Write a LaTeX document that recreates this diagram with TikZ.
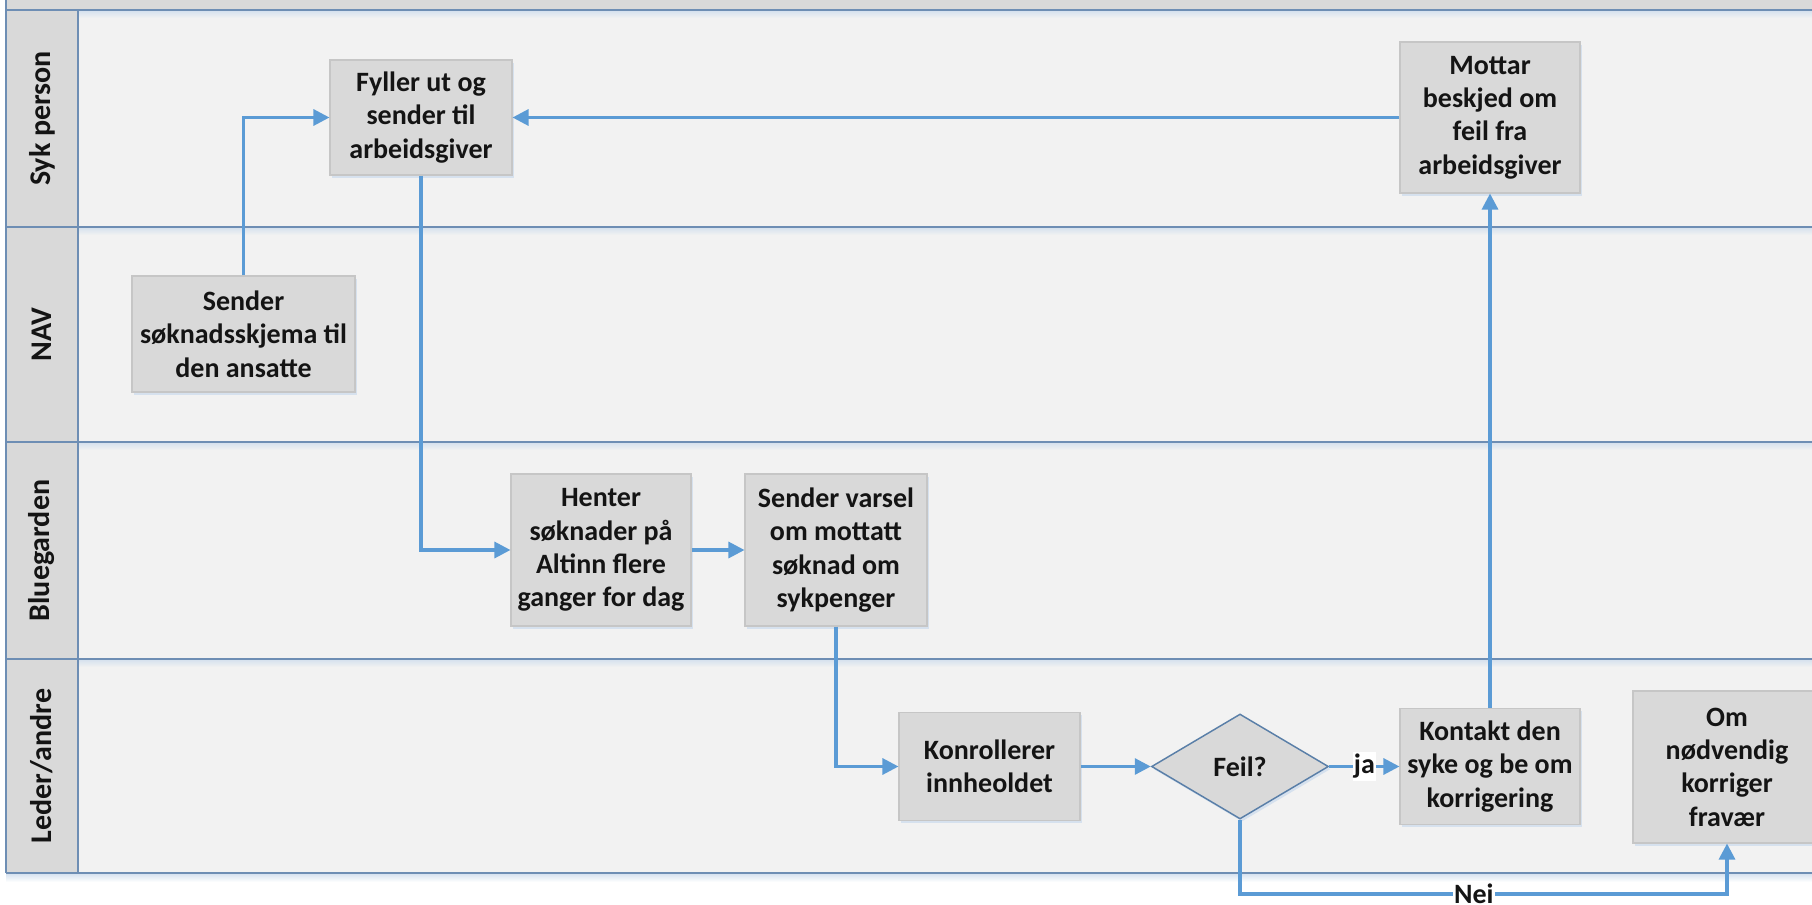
\documentclass[tikz,border=0pt]{standalone}
\usepackage{fontspec}
\setmainfont{Carlito}
\usetikzlibrary{arrows.meta,shapes.geometric,shadows}
\definecolor{lanebg}{HTML}{F2F2F2}
\definecolor{hdr}{HTML}{D9D9D9}
\definecolor{laneline}{HTML}{6E8EB4}
\definecolor{arrowc}{HTML}{5B9BD5}
\definecolor{boxfill}{HTML}{D9D9D9}
\definecolor{boxedge}{HTML}{C6C6C6}
\definecolor{glow}{HTML}{D3E0EE}
\definecolor{txt}{HTML}{141414}
\definecolor{diaedge}{HTML}{5A7FA8}
\begin{document}
\begin{tikzpicture}[x=0.75pt,y=-0.75pt,
  boxtext/.style={font=\fontsize{21}{25}\selectfont\bfseries, text=txt, align=center},
  proc/.style={rectangle, boxtext, draw=boxedge, line width=0.8pt, fill=boxfill, inner sep=0pt,
    drop shadow={shadow xshift=1.5pt, shadow yshift=-2pt, fill=glow, opacity=0.9}},
  decision/.style={diamond, boxtext, draw=diaedge, line width=1.1pt, fill=boxfill, inner sep=0pt,
    minimum width=132.75pt, minimum height=78.75pt,
    drop shadow={shadow xshift=1.5pt, shadow yshift=-2pt, fill=glow, opacity=0.9}},
  lanelabel/.style={font=\fontsize{22.5}{26}\selectfont\bfseries, text=txt, rotate=90},
  arr/.style={draw=arrowc, line width=2.3pt, -{Triangle[length=12pt,width=12pt]}},
  lbl/.style={fill=white, boxtext, inner xsep=1pt, inner ysep=2pt},
  laneline/.style={draw=laneline, line width=1.6pt}]

\useasboundingbox (0,0) rectangle (1812,905);
\clip (0,0) rectangle (1812,905);
\fill[white] (0,0) rectangle (1812,905);

% header band and lanes
\fill[hdr] (6,0) rectangle (1812,10);
\fill[lanebg] (6,10) rectangle (1812,873);
\fill[hdr] (6,10) rectangle (78,873);
\foreach \yy in {10,227,442,659,873} {
  \shade[top color=glow, bottom color=lanebg] (78,\yy) rectangle (1812,\yy+8);
}
\shade[top color=glow, bottom color=white] (6,873) rectangle (1812,882);
\foreach \yy in {10,227,442,659,873} {
  \draw[laneline] (6,\yy) -- (1812,\yy);
}
\draw[laneline] (6,0) -- (6,873);
\draw[laneline] (78,10) -- (78,873);

% lane labels
\node[lanelabel] (l1) at (42,118.5) {Syk person};
\node[lanelabel] (l2) at (42,334.5) {NAV};
\node[lanelabel] (l3) at (42,550.5) {Bluegarden};
\node[lanelabel] (l4) at (42,766) {Leder/andre};

% process nodes
\node[proc, minimum width=136.5pt, minimum height=86.25pt] (fyller) at (421,117.5) {Fyller ut og\\sender til\\arbeidsgiver};
\node[proc, minimum width=167.25pt, minimum height=87pt] (sender) at (243.5,334) {Sender\\søknadsskjema til\\den ansatte};
\node[proc, minimum width=135pt, minimum height=114pt] (henter) at (601,550) {Henter\\søknader på\\Altinn flere\\ganger for dag};
\node[proc, minimum width=136.5pt, minimum height=114pt] (varsel) at (836,550) {Sender varsel\\om mottatt\\søknad om\\sykpenger};
\node[proc, minimum width=135.75pt, minimum height=81pt] (konr) at (989.5,766.5) {Konrollerer\\innheoldet};
\node[decision] (feil) at (1240,766.5) {Feil?};
\node[proc, minimum width=135pt, minimum height=87pt] (kontakt) at (1490,766.5) {Kontakt den\\syke og be om\\korrigering};
\node[proc, minimum width=135pt, minimum height=113.25pt] (mottar) at (1490,117.5) {Mottar\\beskjed om\\feil fra\\arbeidsgiver};
\node[proc, minimum width=141pt, minimum height=114pt] (om) at (1727,767) {Om\\nødvendig\\korriger\\fravær};

% connectors
\draw[arr] (sender.north) |- (fyller.west);
\draw[arr] (fyller.south) |- (henter.west);
\draw[arr] (henter.east) -- (varsel.west);
\draw[arr] (varsel.south) |- (konr.west);
\draw[arr] (konr.east) -- (feil.west);
\draw[arr] (feil.east) -- node[lbl] (ja) {ja} (kontakt.west);
\draw[arr] (kontakt.north) -- (mottar.south);
\draw[arr] (mottar.west) -- (fyller.east);
\coordinate (nd) at (1240,894);
\draw[arr] (feil.south) -- (nd) -| node[lbl, pos=0.24] (nei) {Nei} (om.south);
\end{tikzpicture}
\end{document}
